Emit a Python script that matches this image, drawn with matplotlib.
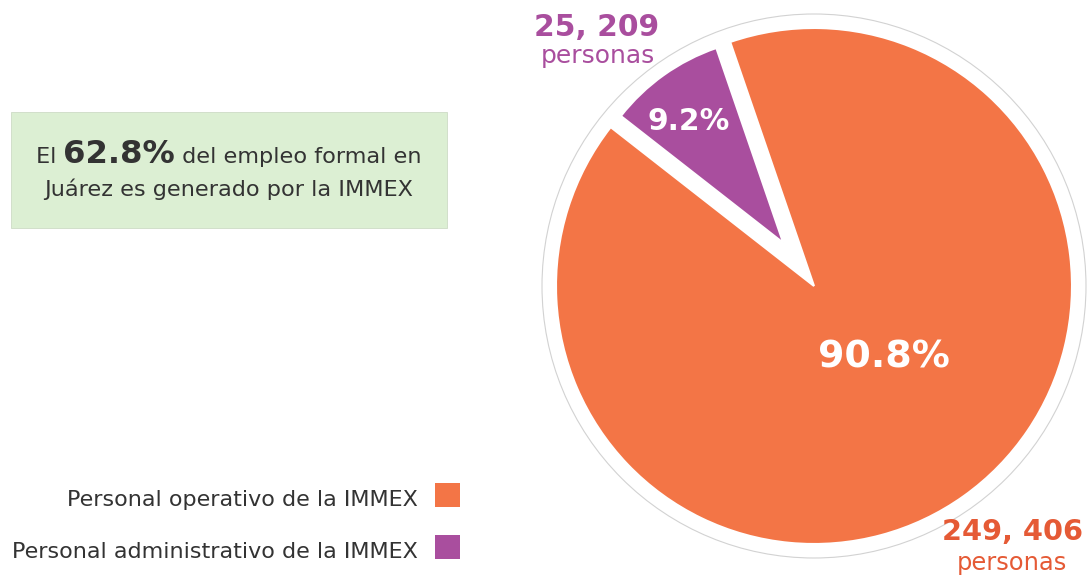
import math
import matplotlib
matplotlib.use("Agg")
import matplotlib.pyplot as plt
from matplotlib.patches import Rectangle, Circle

# ---- data ----
categories = ["Personal operativo de la IMMEX", "Personal administrativo de la IMMEX"]
personas = [249406, 25209]
colors = ["#F37546", "#A94E9E"]
label_colors = ["#E55A35", "#A94E9E"]
headline_pre = "El "
headline_pct = "62.8%"
headline_post = " del empleo formal en"
headline_line2 = "Juárez es generado por la IMMEX"
unit_label = "personas"

W, H = 1092, 579
plt.rcParams['font.family'] = ['DejaVu Sans']
fig = plt.figure(figsize=(W / 100, H / 100), dpi=100)
ax = fig.add_axes([0, 0, 1, 1])
ax.set_xlim(0, W)
ax.set_ylim(0, H)
ax.set_aspect("equal")
ax.axis("off")
fig.canvas.draw()
rend = fig.canvas.get_renderer()


def Y(py):
    return H - py


def fit(t, width):
    """scale font so that the text's rendered width equals `width` pixels"""
    w = t.get_window_extent(rend).width
    t.set_fontsize(t.get_fontsize() * width / w)
    return t


cx, cy, R = 814, Y(286), 258
total = sum(personas)
pcts = [v / total * 100 for v in personas]

# faint outer ring
ax.add_patch(Circle((cx, cy), 272, fill=False, edgecolor="#d2d2d2", linewidth=0.8, zorder=0))

wedges, _ = ax.pie(personas, colors=colors, startangle=142, counterclock=True,
                   center=(cx, cy), radius=R,
                   wedgeprops=dict(edgecolor="white", linewidth=1.5), frame=False)
# explode the small wedge outward along its bisector and shrink it
pw = wedges[1]
mid = math.radians((pw.theta1 + pw.theta2) / 2)
pw.set_center((cx + 53 * math.cos(mid), cy + 53 * math.sin(mid)))
pw.set_radius(206)
ax.set_xlim(0, W)
ax.set_ylim(0, H)
ax.set_aspect("equal")
ax.axis("off")

# percentage labels
fit(ax.text(884, Y(368), f"{pcts[0]:.1f}%", color="white", fontsize=27, fontweight="bold",
            ha="center", va="baseline"), 132)
fit(ax.text(689, Y(130), f"{pcts[1]:.1f}%", color="white", fontsize=21, fontweight="bold",
            ha="center", va="baseline"), 82)


def fmt(v):
    return f"{v:,}".replace(",", ", ")


fit(ax.text(597, Y(36), fmt(personas[1]), color=label_colors[1], fontsize=22, fontweight="bold",
            ha="center", va="baseline"), 125)
fit(ax.text(598, Y(63), unit_label, color=label_colors[1], fontsize=15,
            ha="center", va="baseline"), 114)
fit(ax.text(1012, Y(540), fmt(personas[0]), color=label_colors[0], fontsize=22, fontweight="bold",
            ha="center", va="baseline"), 141)
fit(ax.text(1012, Y(570), unit_label, color=label_colors[0], fontsize=15,
            ha="center", va="baseline"), 110)

# green box
ax.add_patch(Rectangle((11, Y(228)), 436, 116, facecolor="#DCEFD3", edgecolor="#cddbc6",
                       linewidth=0.6, zorder=1))
txtc = "#333333"
l2 = fit(ax.text(229, Y(196), headline_line2, fontsize=15, color=txtc, ha="center",
                 va="baseline", zorder=2), 368)
fs = l2.get_fontsize()
t1 = ax.text(0, Y(163), headline_pre, fontsize=fs, color=txtc, va="baseline", zorder=2)
t2 = fit(ax.text(0, Y(163), headline_pct, fontsize=24, fontweight="bold", color=txtc,
                 va="baseline", zorder=2), 112)
t3 = ax.text(0, Y(163), headline_post, fontsize=fs, color=txtc, va="baseline", zorder=2)
ws = [t.get_window_extent(rend).width for t in (t1, t2, t3)]
x0 = 228.5 - sum(ws) / 2
for t, w in zip((t1, t2, t3), ws):
    t.set_x(x0)
    x0 += w

# legend
leg_texts = []
for i, (cat, col) in enumerate(zip(categories, colors)):
    yy = 506 + i * 52
    leg_texts.append(ax.text(418, Y(yy), cat, fontsize=15, color=txtc, ha="right", va="baseline"))
    ax.add_patch(Rectangle((435, Y(yy + 1)), 25, 24, facecolor=col, edgecolor="none"))
fit(leg_texts[1], 405)
for t in leg_texts[:1]:
    t.set_fontsize(leg_texts[1].get_fontsize())

fig.savefig("out.png", dpi=100, facecolor="white")
